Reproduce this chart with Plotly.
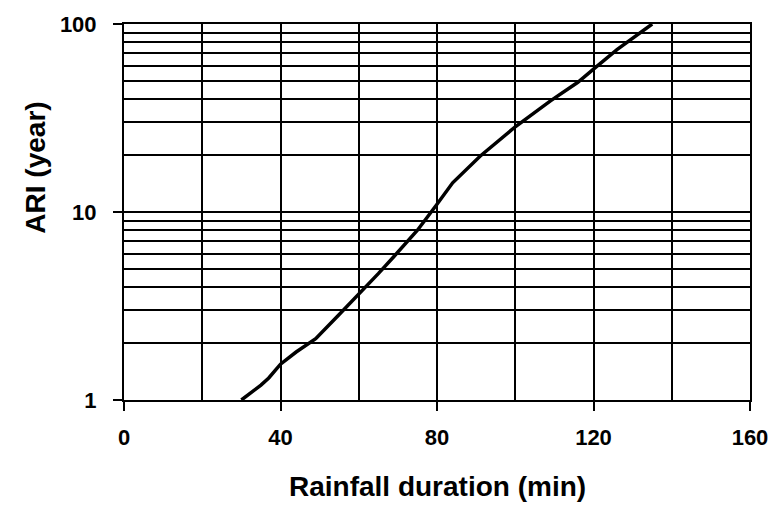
import plotly.graph_objects as go

duration_min = [30, 35, 37, 40, 44, 49, 55, 60, 65, 69, 75, 80, 84, 91, 97, 100, 109, 116, 120, 126, 135]
ari_year = [1.0, 1.2, 1.31, 1.55, 1.8, 2.12, 2.85, 3.65, 4.7, 5.8, 8.0, 11.0, 14.3, 19.8, 25.0, 28.4, 39.0, 49.0, 57.5, 73.0, 100.0]

x_ticks = [0, 40, 80, 120, 160]
y_ticks = [1, 10, 100]
y_minor = [2, 3, 4, 5, 6, 7, 8, 9, 20, 30, 40, 50, 60, 70, 80, 90]

FONT = "Liberation Sans"
L, R, T, B = 124, 26, 19, 110
W, H = 780, 510

fig = go.Figure()
fig.add_trace(go.Scatter(x=duration_min, y=ari_year, mode="lines",
                         line=dict(color="black", width=3.5), showlegend=False))

fig.update_layout(
    width=W, height=H,
    margin=dict(l=L, r=R, t=T, b=B),
    paper_bgcolor="white", plot_bgcolor="white",
    font=dict(family=FONT, color="black"),
    xaxis=dict(range=[0, 160], tickvals=x_ticks, ticks="outside", ticklen=9, tickwidth=1.5,
               tickcolor="black", showgrid=True, gridcolor="black", gridwidth=1.5,
               showline=True, linecolor="black", linewidth=2, mirror=True, zeroline=False,
               tickfont=dict(size=22, weight="bold", family=FONT), ticklabelstandoff=8,
               minor=dict(dtick=20, tick0=0, showgrid=True, gridcolor="black", gridwidth=1.5, ticks="")),
    yaxis=dict(type="log", range=[0, 2], tickvals=y_ticks, ticktext=[str(v) for v in y_ticks],
               ticks="outside", ticklen=9, tickwidth=1.5, tickcolor="black",
               showgrid=True, gridcolor="black", gridwidth=1.5,
               showline=True, linecolor="black", linewidth=2, mirror=True, zeroline=False,
               tickfont=dict(size=22, weight="bold", family=FONT), ticklabelstandoff=12,
               minor=dict(tickvals=y_minor, showgrid=True, gridcolor="black", gridwidth=1.5, ticks="")),
)


def px_to_paper(xp, yp):
    return (xp - L) / (W - L - R), (H - yp - B) / (H - T - B)


ax, ay = px_to_paper(440, 488)
bx, by = px_to_paper(35, 165)
fig.add_annotation(text="Rainfall duration (min)", x=ax, y=ay, xref="paper", yref="paper",
                   xanchor="center", yanchor="middle", showarrow=False,
                   font=dict(size=28, weight="bold", family=FONT))
fig.add_annotation(text="ARI (year)", x=bx, y=by, xref="paper", yref="paper",
                   xanchor="center", yanchor="middle", showarrow=False, textangle=-90,
                   font=dict(size=28, weight="bold", family=FONT))

fig.write_html("out.html")
